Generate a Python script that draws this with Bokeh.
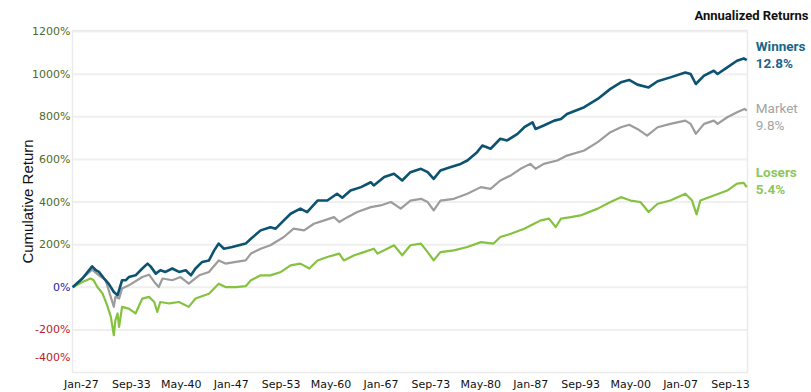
import math
from bokeh.plotting import figure
from bokeh.models import Range1d, ColumnDataSource
from bokeh.core.properties import value
from bokeh.embed import file_html
from bokeh.resources import INLINE

# ---------------- data ----------------
years_w = [1927.0,1928.3,1929.6,1930.1,1930.5,1931.2,1931.8,1932.5,1933.0,1933.2,
           1933.6,1934.1,1934.5,1935.4,1936.3,1937.0,1937.4,1938.1,1938.7,1939.4,
           1940.3,1941.2,1942.1,1942.8,1943.4,1944.3,1945.2,1945.9,1946.5,1947.2,
           1948.3,1949.2,1950.1,1950.8,1952.1,1953.4,1954.1,1955.2,1956.1,1957.4,
           1958.3,1959.7,1961.0,1962.3,1963.0,1964.1,1965.5,1966.8,1967.2,1968.6,
           1969.9,1971.0,1972.1,1973.5,1974.4,1975.2,1976.1,1977.5,1978.8,1979.7,
           1981.0,1981.7,1982.8,1984.1,1985.0,1986.4,1987.3,1988.4,1988.8,1989.9,
           1991.3,1992.2,1993.0,1995.3,1997.1,1998.8,2000.2,2001.3,2002.4,2003.9,
           2005.1,2006.8,2008.8,2009.5,2010.2,2011.3,2012.6,2013.1,2014.4,2015.7,
           2016.6,2017.0]
winners = [0,41,98,80,72,41,17,-22,-37,-14,
           33,33,48,56,88,111,98,64,80,72,
           88,72,80,56,88,119,126,173,205,181,
           189,197,205,228,267,282,275,314,345,369,
           353,407,407,439,420,454,470,493,478,517,
           533,501,540,556,540,509,548,564,579,595,
           634,665,650,697,689,720,751,774,743,759,
           782,790,813,845,884,931,962,973,951,938,
           967,985,1008,1001,954,993,1016,1001,1032,1063,
           1074,1066]

years_m = [1927.0,1929.6,1930.5,1931.4,1932.5,1932.7,1933.2,1933.6,1934.5,1936.3,
           1937.2,1937.9,1938.5,1939.0,1940.3,1941.4,1942.5,1943.9,1945.2,1946.5,
           1947.4,1948.8,1950.1,1950.8,1952.1,1953.4,1955.2,1956.5,1957.9,1959.2,
           1960.6,1961.9,1962.6,1963.7,1965.0,1966.8,1968.1,1969.5,1970.8,1972.1,
           1973.5,1974.4,1975.2,1976.1,1977.9,1979.7,1981.5,1982.8,1984.1,1985.5,
           1986.8,1988.1,1988.8,1989.9,1991.7,1993.0,1995.3,1997.1,1998.8,2000.2,
           2001.3,2002.4,2003.7,2005.1,2006.8,2008.8,2009.5,2010.2,2011.3,2012.6,
           2013.1,2014.4,2015.7,2016.7,2017.0]
market = [0,83,56,33,-92,-45,-53,-6,9,48,
          59,25,1,41,33,48,17,56,72,126,
          111,119,126,158,181,197,236,275,267,298,
          314,329,306,329,353,376,384,400,369,407,
          415,400,361,407,415,439,470,462,501,525,
          556,579,556,579,595,618,642,681,728,751,
          763,743,712,751,767,782,767,720,767,782,
          767,798,821,837,829]

years_l = [1927.0,1928.3,1929.4,1929.8,1930.3,1931.0,1931.6,1932.1,1932.5,1932.7,
           1933.0,1933.2,1933.6,1934.5,1935.4,1936.3,1937.2,1937.9,1938.3,1938.7,
           1939.9,1941.2,1942.5,1943.4,1945.2,1946.5,1947.4,1948.8,1950.1,1950.8,
           1952.1,1953.4,1954.8,1956.1,1957.4,1958.6,1959.7,1961.0,1962.6,1963.2,
           1964.6,1965.9,1967.2,1967.7,1969.0,1969.9,1971.0,1972.1,1973.5,1974.4,
           1975.2,1976.1,1977.9,1979.7,1981.5,1983.2,1984.1,1985.5,1987.3,1988.6,
           1989.5,1990.6,1991.5,1992.2,1993.5,1994.8,1997.1,1998.8,2000.2,2001.5,
           2002.8,2003.9,2005.1,2006.8,2008.8,2009.7,2010.3,2010.8,2012.6,2014.4,
           2015.7,2016.6,2017.0]
losers = [0,25,41,33,1,-30,-84,-139,-225,-155,
          -123,-186,-92,-100,-123,-53,-45,-69,-116,-69,
          -76,-69,-92,-53,-30,17,1,1,5,33,
          56,56,72,103,111,88,126,142,158,126,
          150,165,181,158,181,197,150,197,205,165,
          126,165,173,189,212,205,236,251,275,298,
          314,322,283,322,329,337,369,400,423,407,
          400,353,392,407,439,407,342,407,431,454,
          486,490,470]

series_names = ["Winners", "Market", "Losers"]
annualized = ["12.8%", "9.8%", "5.4%"]

x_tick_labels = ["Jan-27", "Sep-33", "May-40", "Jan-47", "Sep-53", "May-60", "Jan-67",
                 "Sep-73", "May-80", "Jan-87", "Sep-93", "May-00", "Jan-07", "Sep-13"]
y_ticks = [-400, -200, 0, 200, 400, 600, 800, 1000, 1200]
y_axis_title = "Cumulative Return"
legend_title = "Annualized Returns"

# ---------------- styles / layout ----------------
W, H = 811, 392
PAD_L, PAD_R, PAD_T, PAD_B = 72, 64, 30, 20      # pixels around the data frame
X0, X1 = 1926.98, 2017.1                           # data frame x extent (years)
Y0, Y1 = -400, 1205                                # data frame y extent (%)

line_colors = {"Winners": "#0c5371", "Market": "#9c9c9c", "Losers": "#84c240"}
text_colors = {"Winners": "#17668a", "Market": "#a3a3a3", "Losers": "#8cc75a"}
text_weights = {"Winners": "bold", "Market": "normal", "Losers": "bold"}
line_widths = {"Winners": 2.6, "Market": 2.2, "Losers": 2.2}
# (name, rate) vertical pixel offsets relative to the series' final value (negative = up)
label_offsets = {"Winners": (-14, 3), "Market": (-3, 14), "Losers": (-15, 2)}
pos_color, zero_color, neg_color = "#4f6a28", "#1a1aa8", "#c0202a"
grid_color = "#efefef"
frame_color = "#ebebeb"

def label_to_year(lbl):
    months = ["Jan","Feb","Mar","Apr","May","Jun","Jul","Aug","Sep","Oct","Nov","Dec"]
    m, yy = lbl.split("-")
    yy = int(yy)
    year = 1900 + yy if yy >= 20 else 2000 + yy
    return year + months.index(m) / 12.0
LABEL_SHIFT = 14 / 12.0   # reference draws each label ~14 months right of its date
x_ticks = [label_to_year(l) + LABEL_SHIFT for l in x_tick_labels]

# full-canvas frame; ranges extended so that the data frame sits inside the paddings
fw, fh = W - PAD_L - PAD_R, H - PAD_T - PAD_B
xs_per_px = (X1 - X0) / fw
ys_per_px = (Y1 - Y0) / fh
x_range = Range1d(X0 - PAD_L * xs_per_px, X1 + PAD_R * xs_per_px)
y_range = Range1d(Y0 - PAD_B * ys_per_px, Y1 + PAD_T * ys_per_px)

p = figure(width=W, height=H, output_backend="svg", toolbar_location=None,
           x_range=x_range, y_range=y_range,
           min_border=0, min_border_left=0, min_border_right=0,
           min_border_top=0, min_border_bottom=0)
p.axis.visible = False
p.grid.visible = False
p.outline_line_color = None
p.background_fill_color = "white"
p.border_fill_color = "white"

# grid lines (horizontal) and frame
grid_vals = [t for t in y_ticks if t > Y0]
p.segment(x0=[X0] * len(grid_vals), x1=[X1] * len(grid_vals), y0=grid_vals, y1=grid_vals,
          line_color=grid_color, line_width=2)
p.quad(left=[X0], right=[X1], bottom=[Y0], top=[Y1], fill_color=None,
       line_color=frame_color, line_width=1.5)

# y tick labels
def ylab_color(t):
    return pos_color if t > 0 else (zero_color if t == 0 else neg_color)
ysrc = ColumnDataSource(dict(
    x=[X0] * len(y_ticks), y=y_ticks,
    text=["%d%%" % t for t in y_ticks],
    color=[ylab_color(t) for t in y_ticks],
    yoff=[-15 if t == Y0 else 0 for t in y_ticks]))
p.text(x="x", y="y", text="text", source=ysrc, text_color="color", y_offset="yoff",
       x_offset=-2, text_align="right", text_baseline="middle",
       text_font=value("DejaVu Sans"), text_font_size=value("11px"))

# x tick labels
xsrc = ColumnDataSource(dict(x=x_ticks, y=[Y0] * len(x_ticks), text=x_tick_labels))
p.text(x="x", y="y", text="text", source=xsrc, y_offset=5, text_align="center",
       text_baseline="top", text_color="#111111",
       text_font=value("DejaVu Sans"), text_font_size=value("11px"))

# y axis title
p.text(x=[X0], y=[(Y0 + Y1) / 2], text=[y_axis_title], angle=math.pi / 2,
       x_offset=-45, text_align="center", text_baseline="middle", text_color="#111111",
       text_font=value("Liberation Sans"), text_font_size=value("15px"))

# lines
data = {"Winners": (years_w, winners), "Market": (years_m, market), "Losers": (years_l, losers)}
for name in ["Losers", "Market", "Winners"]:
    xs, ys = data[name]
    src = ColumnDataSource(dict(x=xs, y=ys))
    p.line("x", "y", source=src, line_color=line_colors[name],
           line_width=line_widths[name], line_join="round")

# end labels
for name, rate in zip(series_names, annualized):
    xs, ys = data[name]
    off_name, off_rate = label_offsets[name]
    p.text(x=[xs[-1], xs[-1]], y=[ys[-1], ys[-1]], text=[name, rate],
           x_offset=9, y_offset=[off_name, off_rate],
           text_align="left", text_baseline="middle",
           text_font=value("Roboto"), text_font_size=value("13.5px"),
           text_font_style=value(text_weights[name]), text_color=text_colors[name])

p.text(x=[X1], y=[Y1], text=[legend_title], x_offset=61, y_offset=-15,
       text_align="right", text_baseline="middle", text_color="#111111",
       text_font=value("Roboto"), text_font_size=value("13px"),
       text_font_style=value("bold"))

open("out.html", "w").write(file_html(p, INLINE))
